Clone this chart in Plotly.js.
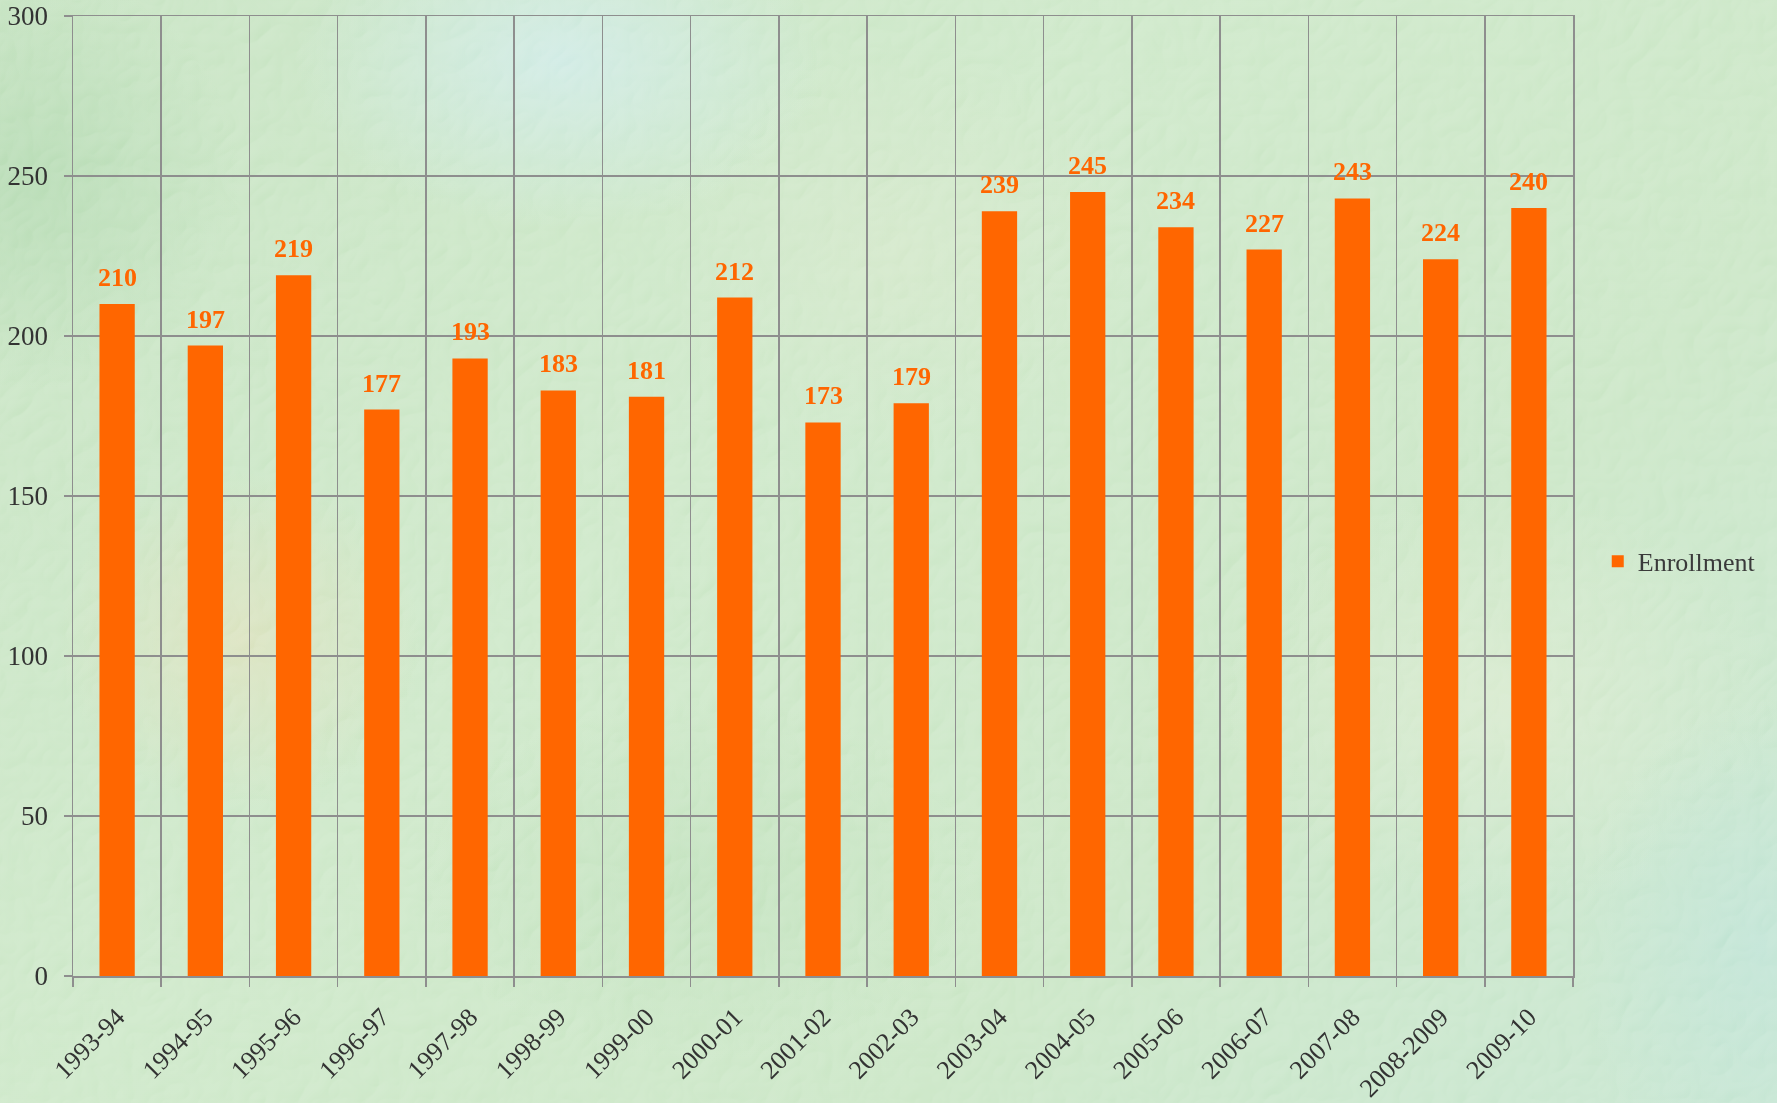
<!DOCTYPE html>
<html>
<head>
<meta charset="utf-8">
<script src="https://cdn.plot.ly/plotly-3.0.1.min.js"></script>
<style>
html,body{margin:0;padding:0;width:1777px;height:1103px;overflow:hidden;}
body{
  position:relative;
  background:
    radial-gradient(ellipse 380px 240px at 560px 60px, rgba(205,234,232,0.85), rgba(205,234,232,0) 70%),
    radial-gradient(ellipse 260px 240px at 240px 640px, rgba(222,222,182,0.7), rgba(222,222,182,0) 70%),
    radial-gradient(ellipse 350px 300px at 900px 250px, rgba(210,230,198,0.7), rgba(210,230,198,0) 70%),
    radial-gradient(ellipse 260px 360px at 1760px 950px, rgba(185,225,212,0.75), rgba(185,225,212,0) 70%),
    radial-gradient(ellipse 400px 300px at 1500px 700px, rgba(218,234,205,0.7), rgba(218,234,205,0) 70%),
    radial-gradient(ellipse 300px 300px at 30px 180px, rgba(172,214,170,0.8), rgba(172,214,170,0) 70%),
    radial-gradient(ellipse 400px 260px at 700px 880px, rgba(182,220,178,0.55), rgba(182,220,178,0) 70%),
    linear-gradient(135deg, #c2e1bd 0%, #c9e6c4 40%, #c6e4c1 70%, #c3e4cd 100%);
}
#tex{position:absolute;left:0;top:0;width:1777px;height:1103px;opacity:0.45;mix-blend-mode:soft-light;pointer-events:none;}
#chart{position:absolute;left:0;top:0;width:1777px;height:1103px;}
</style>
</head>
<body>
<svg id="tex" width="1777" height="1103" xmlns="http://www.w3.org/2000/svg">
  <filter id="f" x="0" y="0" width="100%" height="100%">
    <feTurbulence type="turbulence" baseFrequency="0.03" numOctaves="2" seed="7" result="t"/>
    <feDiffuseLighting in="t" surfaceScale="3" lighting-color="#ffffff" result="l">
      <feDistantLight azimuth="225" elevation="50"/>
    </feDiffuseLighting>
  </filter>
  <rect width="1777" height="1103" filter="url(#f)"/>
</svg>
<div id="chart"></div>
<script>
const categories = ["1993-94","1994-95","1995-96","1996-97","1997-98","1998-99","1999-00","2000-01","2001-02","2002-03","2003-04","2004-05","2005-06","2006-07","2007-08","2008-2009","2009-10"];
const enrollment = [210,197,219,177,193,183,181,212,173,179,239,245,234,227,243,224,240];
const seriesName = "Enrollment";
const yTicks = [0,50,100,150,200,250,300];

const font = "Liberation Serif, Times New Roman, serif";
const orange = "#ff6600";
const grid = "#8e8e8e";

const trace = {
  type: "bar",
  x: categories,
  y: enrollment,
  name: seriesName,
  marker: {color: orange},
  width: 0.4,
  hoverinfo: "x+y"
};

const annotations = categories.map((c, i) => ({
  x: c, y: enrollment[i], text: "<b>" + enrollment[i] + "</b>",
  showarrow: false, xanchor: "center", yanchor: "bottom", yshift: 10,
  font: {family: font, size: 26, color: orange}
}));

const layout = {
  width: 1777, height: 1103,
  paper_bgcolor: "rgba(0,0,0,0)",
  plot_bgcolor: "rgba(0,0,0,0)",
  margin: {l: 73, r: 204, t: 15.5, b: 127, pad: 0},
  font: {family: font, size: 26, color: "#333333"},
  xaxis: {
    type: "category",
    tickangle: -45,
    showgrid: true, gridcolor: grid, gridwidth: 1.5,
    tickson: "boundaries",
    ticks: "outside", ticklen: 9, tickcolor: grid, tickwidth: 1.5,
    showline: true, linecolor: grid, linewidth: 1.5, mirror: true,
    ticklabelstandoff: 14,
    tickfont: {family: font, size: 26, color: "#333333"},
    fixedrange: true
  },
  yaxis: {
    range: [0, 300],
    tickvals: yTicks,
    showgrid: true, gridcolor: grid, gridwidth: 1.5,
    ticks: "outside", ticklen: 8, tickcolor: grid, tickwidth: 1.5,
    showline: true, linecolor: grid, linewidth: 1.5, mirror: true,
    zeroline: false,
    ticklabelstandoff: 10,
    tickfont: {family: font, size: 27, color: "#333333"},
    fixedrange: true
  },
  showlegend: true,
  legend: {
    x: 1.0165, y: 0.432, xanchor: "left", yanchor: "middle",
    bgcolor: "rgba(0,0,0,0)",
    font: {family: font, size: 26, color: "#3a3a3a"},
    itemwidth: 30
  },
  annotations: annotations
};

Plotly.newPlot("chart", [trace], layout, {displayModeBar: false, staticPlot: true});
</script>
</body>
</html>
